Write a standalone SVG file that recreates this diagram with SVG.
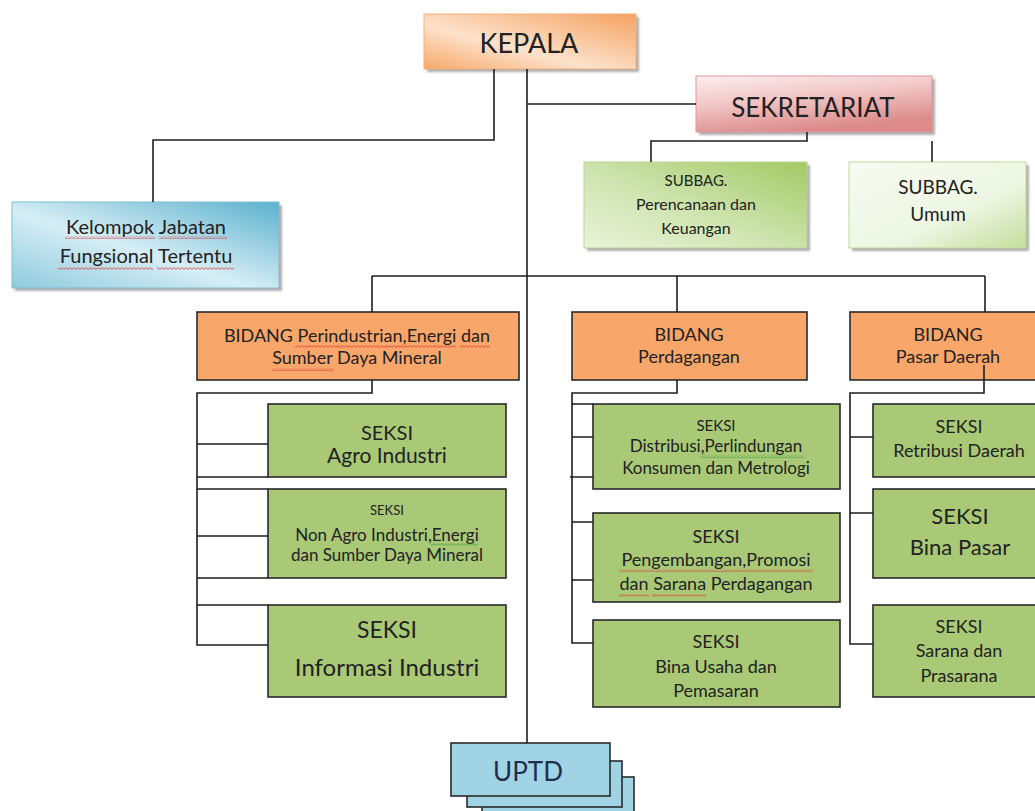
<svg xmlns="http://www.w3.org/2000/svg" width="1035" height="811" viewBox="0 0 1035 811">
<defs>
  <linearGradient id="gOrange" x1="0" y1="1" x2="1" y2="0">
    <stop offset="0" stop-color="#f6a868"/>
    <stop offset="0.4" stop-color="#fde2cb"/>
    <stop offset="1" stop-color="#f4a261"/>
  </linearGradient>
  <linearGradient id="gPink" x1="0" y1="0" x2="0.4" y2="1">
    <stop offset="0" stop-color="#fbeeee"/>
    <stop offset="0.45" stop-color="#f2c8c8"/>
    <stop offset="1" stop-color="#dc8a8a"/>
  </linearGradient>
  <linearGradient id="gGreen" x1="0" y1="1" x2="1" y2="0">
    <stop offset="0" stop-color="#e9f3da"/>
    <stop offset="0.45" stop-color="#cfe4b0"/>
    <stop offset="1" stop-color="#a2ca64"/>
  </linearGradient>
  <linearGradient id="gLight" x1="0" y1="0" x2="1" y2="1">
    <stop offset="0" stop-color="#f7fbf1"/>
    <stop offset="0.6" stop-color="#eef6e3"/>
    <stop offset="1" stop-color="#c4de9c"/>
  </linearGradient>
  <linearGradient id="gBlue" x1="0" y1="1" x2="1" y2="0">
    <stop offset="0" stop-color="#8fcadd"/>
    <stop offset="0.45" stop-color="#d6eef5"/>
    <stop offset="1" stop-color="#5bb1cd"/>
  </linearGradient>
  <filter id="blur" x="-10%" y="-10%" width="120%" height="130%">
    <feGaussianBlur stdDeviation="1.2"/>
  </filter>
  <pattern id="wavyRed" width="4" height="3" patternUnits="userSpaceOnUse">
    <path d="M0 2.4 L2 0.6 L4 2.4" fill="none" stroke="#e03030" stroke-width="0.8"/>
  </pattern>
  <pattern id="wavyGreen" width="4" height="3" patternUnits="userSpaceOnUse">
    <path d="M0 2.4 L2 0.6 L4 2.4" fill="none" stroke="#3aa040" stroke-width="0.8"/>
  </pattern>
</defs>
<style>
  text { font-family: Lato, "Liberation Sans", sans-serif; fill: #222; text-anchor: middle; }
  .shadow { fill: #9a9a9a; filter: url(#blur); opacity: 0.8; }
  .bidang { fill: #f8a66a; stroke: #2a2a2a; stroke-width: 1.6; }
  .seksi { fill: #a9c977; stroke: #2a2a2a; stroke-width: 1.6; }
  .uptd { fill: #a0d4e4; stroke: #2a2a2a; stroke-width: 1.6; }
  .conn { fill: none; stroke: #1e1e1e; stroke-width: 1.6; }
  .wr { fill: url(#wavyRed); }
  .wg { fill: url(#wavyGreen); }
</style>
<rect width="1035" height="811" fill="#ffffff"/>

<g id="kepala">
  <rect class="shadow" x="427" y="17" width="212" height="55"/>
  <rect x="424" y="14" width="212" height="55" fill="url(#gOrange)" stroke="#f3b07c" stroke-width="1"/>
  <text x="529" y="53" font-size="27">KEPALA</text>
</g>

<g id="sekretariat">
  <rect class="shadow" x="699" y="79" width="236" height="56"/>
  <rect x="696" y="76" width="236" height="56" fill="url(#gPink)" stroke="#d99a9a" stroke-width="1"/>
  <text x="813" y="117" font-size="26">SEKRETARIAT</text>
</g>

<g id="subbag-perencanaan">
  <rect class="shadow" x="587" y="165" width="223" height="86"/>
  <rect x="584" y="162" width="223" height="86" fill="url(#gGreen)" stroke="#b9d590" stroke-width="1"/>
  <text x="696" y="186" font-size="15">SUBBAG.</text>
  <text x="696" y="210" font-size="16">Perencanaan dan</text>
  <text x="696" y="234" font-size="16">Keuangan</text>
</g>

<g id="subbag-umum">
  <rect class="shadow" x="852" y="165" width="177" height="86"/>
  <rect x="849" y="162" width="177" height="86" fill="url(#gLight)" stroke="#c0da98" stroke-width="1"/>
  <text x="938" y="194" font-size="19">SUBBAG.</text>
  <text x="938" y="221" font-size="19">Umum</text>
</g>

<g id="kelompok-jabatan">
  <rect class="shadow" x="15" y="205" width="267" height="86"/>
  <rect x="12" y="202" width="267" height="86" fill="url(#gBlue)" stroke="#7fbfd3" stroke-width="1"/>
  <text x="146" y="234" font-size="20">Kelompok Jabatan</text>
  <text x="146" y="263" font-size="20">Fungsional Tertentu</text>
  <rect class="wr" x="65" y="236" width="90" height="3"/>
  <rect class="wr" x="159" y="236" width="68" height="3"/>
  <rect class="wr" x="58" y="267" width="95" height="3"/>
  <rect class="wr" x="157" y="267" width="77" height="3"/>
</g>

<g id="bidang-perindustrian">
  <rect class="bidang" x="197" y="312" width="322" height="68"/>
  <text x="357" y="342" font-size="18">BIDANG Perindustrian,Energi dan</text>
  <text x="357" y="364" font-size="18">Sumber Daya Mineral</text>
  <rect class="wr" x="295" y="345" width="161" height="3"/>
  <rect class="wr" x="460" y="345" width="30" height="3"/>
  <rect class="wr" x="272" y="368" width="62" height="3"/>
</g>

<g id="bidang-perdagangan">
  <rect class="bidang" x="572" y="312" width="235" height="68"/>
  <text x="689" y="341" font-size="18">BIDANG</text>
  <text x="689" y="363" font-size="18">Perdagangan</text>
</g>

<g id="bidang-pasar">
  <rect class="bidang" x="850" y="312" width="195" height="68"/>
  <text x="948" y="341" font-size="18">BIDANG</text>
  <text x="948" y="363" font-size="18">Pasar Daerah</text>
</g>

<g id="seksi-agro">
  <rect class="seksi" x="268" y="404" width="238" height="73"/>
  <text x="387" y="440" font-size="20">SEKSI</text>
  <text x="387" y="463" font-size="21">Agro Industri</text>
</g>

<g id="seksi-non-agro">
  <rect class="seksi" x="268" y="489" width="238" height="89"/>
  <text x="387" y="515" font-size="13">SEKSI</text>
  <text x="387" y="541" font-size="17">Non Agro Industri,Energi</text>
  <text x="387" y="561" font-size="17">dan Sumber Daya Mineral</text>
  <rect class="wg" x="431" y="543" width="47" height="3"/>
</g>

<g id="seksi-informasi">
  <rect class="seksi" x="268" y="605" width="238" height="92"/>
  <text x="387" y="638" font-size="23">SEKSI</text>
  <text x="387" y="676" font-size="24">Informasi Industri</text>
</g>

<g id="seksi-distribusi">
  <rect class="seksi" x="593" y="404" width="247" height="85"/>
  <text x="716" y="431" font-size="15">SEKSI</text>
  <text x="716" y="452" font-size="17">Distribusi,Perlindungan</text>
  <text x="716" y="474" font-size="17">Konsumen dan Metrologi</text>
  <rect class="wg" x="700" y="455" width="104" height="3"/>
</g>

<g id="seksi-pengembangan">
  <rect class="seksi" x="593" y="513" width="247" height="89"/>
  <text x="716" y="543" font-size="18">SEKSI</text>
  <text x="716" y="566" font-size="18">Pengembangan,Promosi</text>
  <text x="716" y="590" font-size="18">dan Sarana Perdagangan</text>
  <rect class="wr" x="619" y="569" width="194" height="3"/>
  <rect class="wr" x="619" y="594" width="30" height="3"/>
  <rect class="wr" x="652" y="594" width="54" height="3"/>
</g>

<g id="seksi-bina-usaha">
  <rect class="seksi" x="593" y="620" width="247" height="87"/>
  <text x="716" y="648" font-size="18">SEKSI</text>
  <text x="716" y="673" font-size="18">Bina Usaha dan</text>
  <text x="716" y="697" font-size="18">Pemasaran</text>
</g>

<g id="seksi-retribusi">
  <rect class="seksi" x="873" y="404" width="172" height="73"/>
  <text x="959" y="433" font-size="18">SEKSI</text>
  <text x="959" y="457" font-size="18">Retribusi Daerah</text>
</g>

<g id="seksi-bina-pasar">
  <rect class="seksi" x="873" y="489" width="172" height="89"/>
  <text x="960" y="524" font-size="22">SEKSI</text>
  <text x="960" y="555" font-size="22">Bina Pasar</text>
</g>

<g id="seksi-sarana">
  <rect class="seksi" x="873" y="605" width="172" height="92"/>
  <text x="959" y="633" font-size="18">SEKSI</text>
  <text x="959" y="657" font-size="18">Sarana dan</text>
  <text x="959" y="682" font-size="18">Prasarana</text>
</g>

<g id="uptd">
  <rect class="uptd" x="482" y="777" width="152" height="40"/>
  <rect class="uptd" x="467" y="761" width="155" height="46"/>
  <rect class="uptd" x="451" y="743" width="159" height="53"/>
  <text x="528" y="781" font-size="26" style="fill:#1f2d4a">UPTD</text>
</g>

<g id="connectors">
  <path class="conn" d="M494 69 V140 H153 V202"/>
  <path class="conn" d="M527 69 V743"/>
  <path class="conn" d="M527 104 H696"/>
  <path class="conn" d="M807 132 V141 H651 V162 M932 141 V162"/>
  <path class="conn" d="M372 276 H985 M372 276 V312 M677 276 V312 M985 276 V312"/>
  <path class="conn" d="M372 380 V393 H197 V645 H268 M197 444 H268 M197 477 H268 M197 489 H268 M197 536 H268 M197 578 H268 M197 605 H268"/>
  <path class="conn" d="M677 380 V393 H572 V643 H593 M572 404 H593 M572 437 H593 M570 477 H593 M572 522 H593 M572 580 H593"/>
  <path class="conn" d="M984 365 V393 H850 V644 H873 M850 437 H873 M850 513 H873"/>
</g>
</svg>
